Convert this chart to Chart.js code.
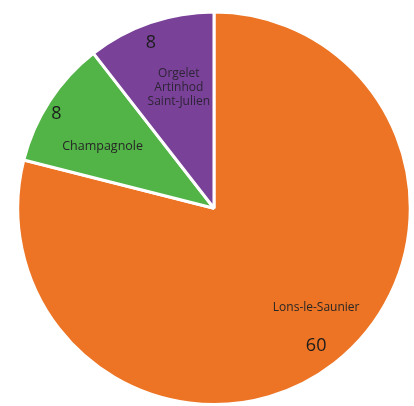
<!DOCTYPE html>
<html>
<head>
<meta charset="utf-8">
<script src="https://cdn.jsdelivr.net/npm/chart.js@4/dist/chart.umd.min.js"></script>
<style>
  html, body { margin: 0; padding: 0; background: #fff; }
  #wrap { width: 414px; height: 406px; }
</style>
</head>
<body>
<div id="wrap"><canvas id="pie_chart"></canvas></div>
<script>
// the data
const labels = ["Lons-le-Saunier", "Champagnole", "Orgelet\nArtinhod\nSaint-Julien"]
const values = [60, 8, 8]
const slice_colors = ["#EC7424", "#52B447", "#7A4199"]

// where to put the text inside each slice: [radius fraction, angle shift in degrees]
const value_place = [[0.875, 1.4], [0.935, -2.3], [0.9, -2]]
const name_place = [[0.725, -8], [0.65, -4], [0.64, 2.7]]

// small plugin that writes the name and value of each slice
const slice_text = {
  id: 'slice_text',
  afterDatasetsDraw(chart) {
    const ctx = chart.ctx
    const meta = chart.getDatasetMeta(0)
    ctx.save()
    ctx.textAlign = 'center'
    ctx.textBaseline = 'middle'
    meta.data.forEach((arc, i) => {
      const p = arc.getProps(['x', 'y', 'startAngle', 'endAngle', 'outerRadius'], true)
      const mid = (p.startAngle + p.endAngle) / 2

      const at = (place) => {
        const a = mid + place[1] * Math.PI / 180
        return [p.x + Math.cos(a) * p.outerRadius * place[0], p.y + Math.sin(a) * p.outerRadius * place[0]]
      }

      // value
      let pos = at(value_place[i])
      ctx.fillStyle = '#1c1c1c'
      ctx.font = '18px "Open Sans", "Noto Sans", sans-serif'
      ctx.fillText(String(values[i]), pos[0], pos[1])

      // name, may be several lines
      pos = at(name_place[i])
      ctx.fillStyle = i == 2 ? '#2e2436' : '#262626'
      ctx.font = i == 1 ? '12.5px "Open Sans", "Noto Sans", sans-serif' : '12px "Open Sans", "Noto Sans", sans-serif'
      const lines = labels[i].split('\n')
      const lh = 14
      lines.forEach((line, j) => {
        ctx.fillText(line, pos[0], pos[1] + (j - (lines.length - 1) / 2) * lh)
      })
    })
    ctx.restore()
  }
}

const pie_config = {
  type: 'pie',
  data: {
    labels: labels,
    datasets: [{
      data: values,
      backgroundColor: slice_colors,
      borderColor: '#ffffff',
      borderWidth: 3,
      hoverOffset: 0
    }]
  },
  options: {
    responsive: true,
    maintainAspectRatio: false,
    animation: false,
    layout: { padding: { top: 10.5, bottom: -3.5, left: 14.5, right: 0.5 } },
    plugins: {
      legend: { display: false },
      tooltip: { enabled: false }
    }
  },
  plugins: [slice_text]
}

const myPieChart = new Chart(document.getElementById('pie_chart'), pie_config)
</script>
</body>
</html>
